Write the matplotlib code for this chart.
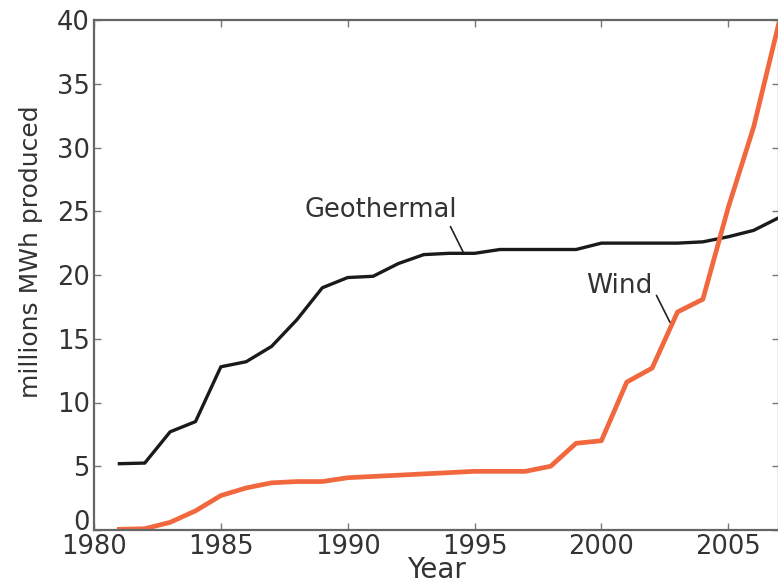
import numpy as np
import matplotlib.pyplot as plt

# annual net generation, millions of MWh
years = list(range(1981, 2008))
geothermal = [5.2, 5.25, 7.7, 8.5, 12.8, 13.2, 14.4, 16.5, 19.0, 19.8,
              19.9, 20.9, 21.6, 21.7, 21.7, 22.0, 22.0, 22.0, 22.0, 22.5,
              22.5, 22.5, 22.5, 22.6, 23.0, 23.5, 24.5]
wind = [0.05, 0.1, 0.6, 1.5, 2.7, 3.3, 3.7, 3.8, 3.8, 4.1,
        4.2, 4.3, 4.4, 4.5, 4.6, 4.6, 4.6, 5.0, 6.8, 7.0,
        11.6, 12.7, 17.1, 18.1, 25.3, 31.6, 39.8]

fig = plt.figure(figsize=(7.78, 5.83), dpi=100)
ax = fig.add_axes([94 / 778, 53 / 583, 685 / 778, 510 / 583])

ax.plot(years, geothermal, color='#1a1a1a', lw=2.4, solid_joinstyle='round')
ax.plot(years, wind, color='#f2683e', lw=3.4, solid_joinstyle='round')

ax.set_xlim(1980, 2007)
ax.set_ylim(0, 40)
ax.set_xticks(np.arange(1980, 2006, 5))
ax.set_yticks(np.arange(0, 41, 5))

txt = '#333333'
ax.tick_params(direction='in', length=5, width=1, colors='#777777',
               labelcolor=txt, labelsize=18.5, top=True, right=True, pad=3)
# keep the "0" clear of the "1980" below it
ax.get_yticklabels()[0].set_verticalalignment('baseline')
for s in ax.spines.values():
    s.set_color('#666666')
    s.set_linewidth(1.6)

ax.set_xlabel('Year', fontsize=20, color=txt, labelpad=-3)
ax.set_ylabel('millions MWh produced', fontsize=18, color=txt)
ax.yaxis.set_label_coords(-0.074, 0.545)

line_props = dict(arrowstyle='-', color='#222222', lw=1.2, shrinkA=0, shrinkB=0)
ax.text(1991.3, 25.1, 'Geothermal', ha='center', va='center',
        fontsize=18.5, color=txt)
ax.annotate('', xy=(1994.55, 21.8), xytext=(1994.05, 23.8),
            arrowprops=line_props)
ax.text(2000.7, 19.1, 'Wind', ha='center', va='center',
        fontsize=19, color=txt)
ax.annotate('', xy=(2002.7, 16.3), xytext=(2002.17, 18.4),
            arrowprops=line_props)

fig.savefig('out.png', dpi=100)
